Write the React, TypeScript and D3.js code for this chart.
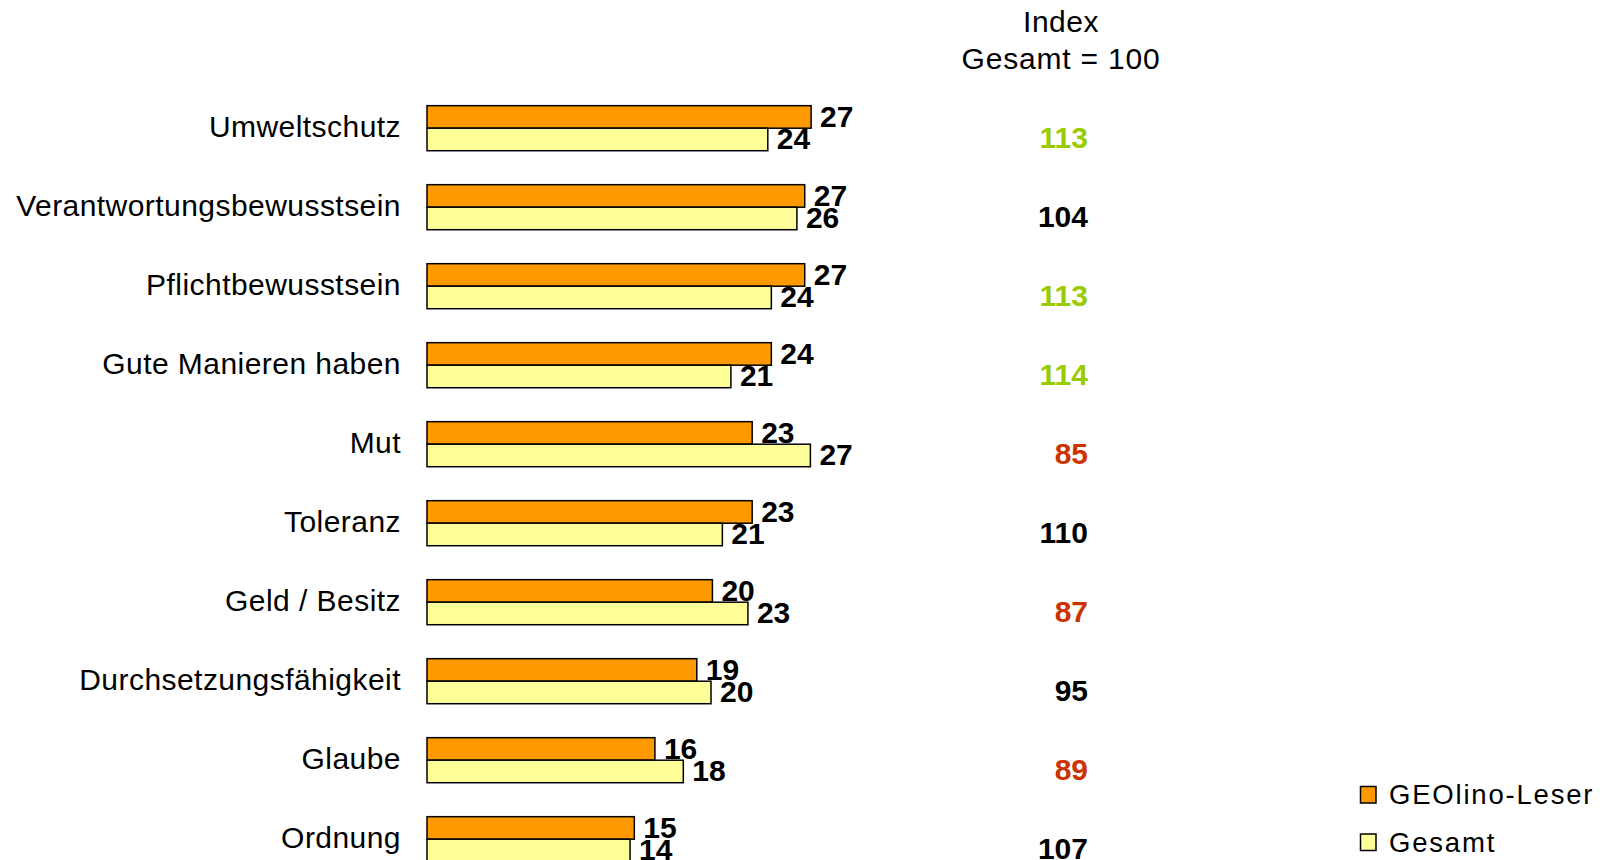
import React from "react";
import * as d3 from "d3";

const categories = [
  "Umweltschutz",
  "Verantwortungsbewusstsein",
  "Pflichtbewusstsein",
  "Gute Manieren haben",
  "Mut",
  "Toleranz",
  "Geld / Besitz",
  "Durchsetzungsfähigkeit",
  "Glaube",
  "Ordnung",
];
const seriesNames = ["GEOlino-Leser", "Gesamt"];
const geolinoValues = [27.05, 26.6, 26.6, 24.25, 22.9, 22.9, 20.1, 19.0, 16.05, 14.6];
const gesamtValues = [24.0, 26.05, 24.25, 21.4, 27.0, 20.8, 22.6, 20.0, 18.05, 14.3];
const indexValues = [113, 104, 113, 114, 85, 110, 87, 95, 89, 107];
const indexHeader = ["Index", "Gesamt = 100"];

const WIDTH = 1603;
const HEIGHT = 860;
const FONT = "'Liberation Sans', Arial, Helvetica, sans-serif";
const COLORS = ["#FF9900", "#FFFF99"];

export default function App() {
  const seriesValues = [geolinoValues, gesamtValues];

  const x = d3.scaleLinear().domain([0, 30]).range([427, 853]);
  const y = d3
    .scaleBand<string>()
    .domain(categories)
    .range([88.7, 878.7])
    .paddingInner(0.43)
    .paddingOuter(0.215);
  const ySub = d3
    .scaleBand<string>()
    .domain(seriesNames)
    .range([0, y.bandwidth()]);

  const indexColor = (v: number) =>
    v > 110 ? "#99CC00" : v < 90 ? "#CC3300" : "#000000";

  return (
    <svg
      width={WIDTH}
      height={HEIGHT}
      style={{ position: "absolute", left: 0, top: 0, display: "block", background: "#fff" }}
      fontFamily={FONT}
    >
      <rect x={0} y={0} width={WIDTH} height={HEIGHT} fill="#fff" />

      {/* Index header */}
      <text x={1061} y={31.7} fontSize={30} textAnchor="middle" fill="#000" letterSpacing={0.5}>
        {indexHeader[0]}
      </text>
      <text x={1061} y={69} fontSize={30} textAnchor="middle" fill="#000" letterSpacing={0.8}>
        {indexHeader[1]}
      </text>

      {categories.map((c, i) => {
        const y0 = y(c)!;
        const center = y0 + y.bandwidth() / 2;
        return (
          <g key={c}>
            <text
              x={401}
              y={center + 8.6}
              fontSize={30}
              textAnchor="end"
              fill="#000"
              letterSpacing={0.45}
            >
              {c}
            </text>
            {seriesNames.map((s, si) => {
              const v = seriesValues[si][i];
              const by = y0 + ySub(s)!;
              const bh = ySub.bandwidth();
              return (
                <rect
                  key={s}
                  x={x(0)}
                  y={by}
                  width={x(v) - x(0)}
                  height={bh}
                  fill={COLORS[si]}
                  stroke="#000"
                  strokeWidth={1.5}
                />
              );
            })}
            {seriesNames.map((s, si) => {
              const v = seriesValues[si][i];
              const by = y0 + ySub(s)!;
              const bh = ySub.bandwidth();
              return (
                <text
                  key={s + "-l"}
                  x={x(v) + 9}
                  y={by + bh / 2 + 10}
                  fontSize={30}
                  fontWeight="bold"
                  fill="#000"
                >
                  {d3.format(".0f")(v)}
                </text>
              );
            })}
            <text
              x={1088}
              y={center + 19.4}
              fontSize={30}
              fontWeight="bold"
              textAnchor="end"
              fill={indexColor(indexValues[i])}
            >
              {indexValues[i]}
            </text>
          </g>
        );
      })}

      {/* Legend */}
      {seriesNames.map((s, si) => (
        <g key={"lg" + s}>
          <rect
            x={1360.5}
            y={786.5 + si * 47.5}
            width={15.5}
            height={16.5}
            fill={COLORS[si]}
            stroke="#000"
            strokeWidth={1.5}
          />
          <text x={1389} y={804 + si * 47.5} fontSize={27.5} fill="#000" letterSpacing={1.8}>
            {s}
          </text>
        </g>
      ))}
    </svg>
  );
}
